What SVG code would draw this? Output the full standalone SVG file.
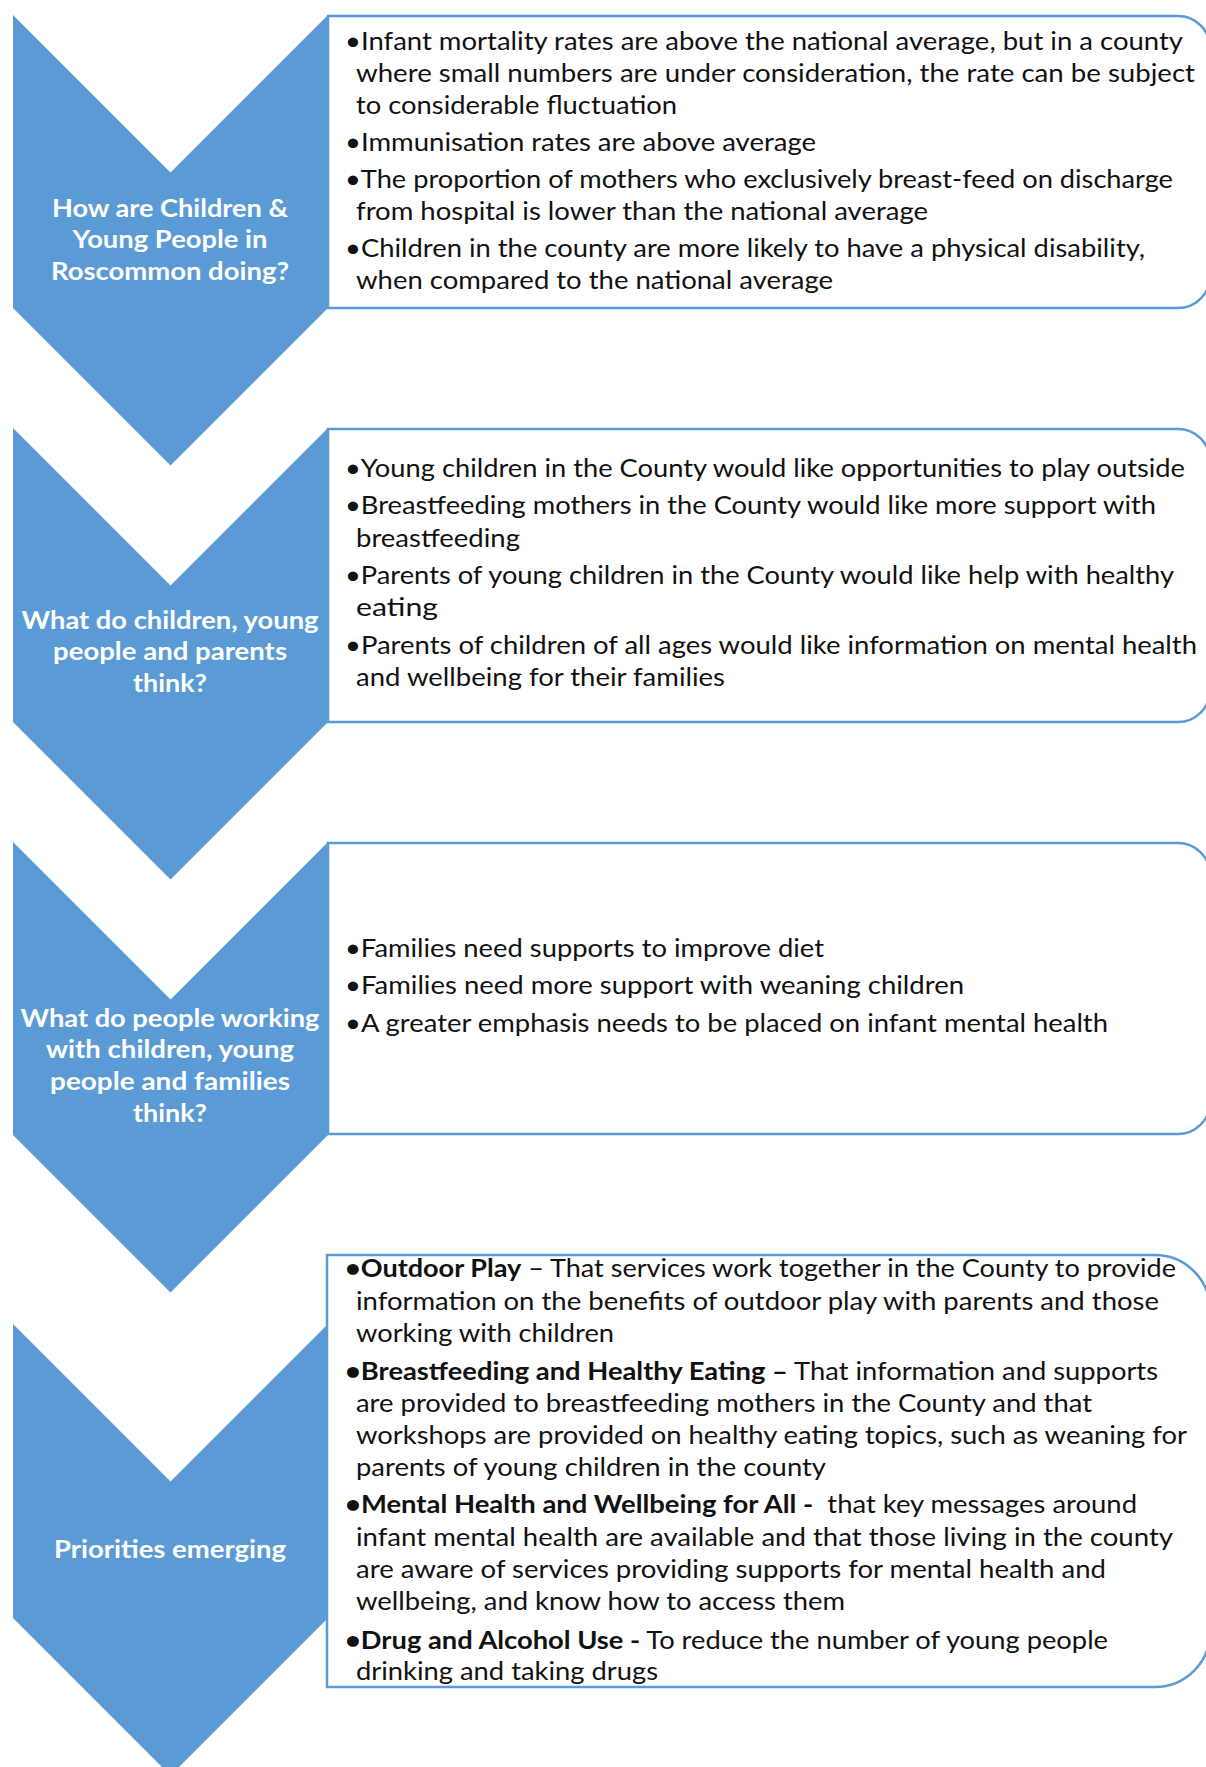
<svg xmlns="http://www.w3.org/2000/svg" width="1206" height="1767" viewBox="0 0 1206 1767">
  <style>
    .chev { fill: #5b9bd5; }
    .box { fill: #ffffff; stroke: #5b9bd5; stroke-width: 2.5; }
    .lbl { font-family: Lato, "Open Sans", "Liberation Sans", sans-serif; font-weight: bold; font-size: 25px; fill: #ffffff; text-anchor: middle; }
    .txt { font-family: Lato, "Open Sans", "Liberation Sans", sans-serif; font-size: 25px; fill: #111111; }
    .b { font-weight: bold; }
  </style>
  <rect width="1206" height="1767" fill="#ffffff"/>

  <g id="node-1">
    <polygon class="chev" points="13,15 170.5,172.5 328,15 328,308 170.5,465.5 13,308"/>
    <text class="lbl" x="170" y="217" textLength="236" lengthAdjust="spacingAndGlyphs">How are Children &amp;</text>
    <text class="lbl" x="170" y="248" textLength="195" lengthAdjust="spacingAndGlyphs">Young People in</text>
    <text class="lbl" x="170" y="280" textLength="238" lengthAdjust="spacingAndGlyphs">Roscommon doing?</text>
  </g>
  <g id="box-1">
    <path class="box" d="M328,16 H1178 A32,32 0 0 1 1210,48 V276 A32,32 0 0 1 1178,308 H328 Z"/>
    <text class="txt" x="345" y="50" textLength="838" lengthAdjust="spacingAndGlyphs">•Infant mortality rates are above the national average, but in a county</text>
    <text class="txt" x="356" y="82" textLength="839" lengthAdjust="spacingAndGlyphs">where small numbers are under consideration, the rate can be subject</text>
    <text class="txt" x="356" y="114" textLength="321" lengthAdjust="spacingAndGlyphs">to considerable fluctuation</text>
    <text class="txt" x="345" y="151" textLength="471" lengthAdjust="spacingAndGlyphs">•Immunisation rates are above average</text>
    <text class="txt" x="345" y="188" textLength="828" lengthAdjust="spacingAndGlyphs">•The proportion of mothers who exclusively breast-feed on discharge</text>
    <text class="txt" x="356" y="220" textLength="572" lengthAdjust="spacingAndGlyphs">from hospital is lower than the national average</text>
    <text class="txt" x="345" y="257" textLength="800" lengthAdjust="spacingAndGlyphs">•Children in the county are more likely to have a physical disability,</text>
    <text class="txt" x="356" y="289" textLength="477" lengthAdjust="spacingAndGlyphs">when compared to the national average</text>
  </g>

  <g id="node-2">
    <polygon class="chev" points="13,428 170.5,585.5 328,428 328,722 170.5,879.5 13,722"/>
    <text class="lbl" x="170" y="629" textLength="297" lengthAdjust="spacingAndGlyphs">What do children, young</text>
    <text class="lbl" x="170" y="660" textLength="234" lengthAdjust="spacingAndGlyphs">people and parents</text>
    <text class="lbl" x="170" y="692" textLength="74" lengthAdjust="spacingAndGlyphs">think?</text>
  </g>
  <g id="box-2">
    <path class="box" d="M328,429 H1178 A32,32 0 0 1 1210,461 V690 A32,32 0 0 1 1178,722 H328 Z"/>
    <text class="txt" x="345" y="477" textLength="840" lengthAdjust="spacingAndGlyphs">•Young children in the County would like opportunities to play outside</text>
    <text class="txt" x="345" y="514" textLength="811" lengthAdjust="spacingAndGlyphs">•Breastfeeding mothers in the County would like more support with</text>
    <text class="txt" x="356" y="547" textLength="164" lengthAdjust="spacingAndGlyphs">breastfeeding</text>
    <text class="txt" x="345" y="584" textLength="829" lengthAdjust="spacingAndGlyphs">•Parents of young children in the County would like help with healthy</text>
    <text class="txt" x="356" y="616" textLength="82" lengthAdjust="spacingAndGlyphs">eating</text>
    <text class="txt" x="345" y="654" textLength="852" lengthAdjust="spacingAndGlyphs">•Parents of children of all ages would like information on mental health</text>
    <text class="txt" x="356" y="686" textLength="369" lengthAdjust="spacingAndGlyphs">and wellbeing for their families</text>
  </g>

  <g id="node-3">
    <polygon class="chev" points="13,842 170.5,999.5 328,842 328,1135 170.5,1292.5 13,1135"/>
    <text class="lbl" x="170" y="1027" textLength="299" lengthAdjust="spacingAndGlyphs">What do people working</text>
    <text class="lbl" x="170" y="1058" textLength="248" lengthAdjust="spacingAndGlyphs">with children, young</text>
    <text class="lbl" x="170" y="1090" textLength="240" lengthAdjust="spacingAndGlyphs">people and families</text>
    <text class="lbl" x="170" y="1122" textLength="74" lengthAdjust="spacingAndGlyphs">think?</text>
  </g>
  <g id="box-3">
    <path class="box" d="M328,843 H1178 A32,32 0 0 1 1210,875 V1102 A32,32 0 0 1 1178,1134 H328 Z"/>
    <text class="txt" x="345" y="957" textLength="479" lengthAdjust="spacingAndGlyphs">•Families need supports to improve diet</text>
    <text class="txt" x="345" y="994" textLength="619" lengthAdjust="spacingAndGlyphs">•Families need more support with weaning children</text>
    <text class="txt" x="345" y="1032" textLength="763" lengthAdjust="spacingAndGlyphs">•A greater emphasis needs to be placed on infant mental health</text>
  </g>

  <g id="node-4">
    <polygon class="chev" points="13,1324 170.5,1481.5 328,1324 328,1618 170.5,1775.5 13,1618"/>
    <text class="lbl" x="170" y="1558" textLength="232" lengthAdjust="spacingAndGlyphs">Priorities emerging</text>
  </g>
  <g id="box-4">
    <path class="box" d="M327,1255 H1155 A55,55 0 0 1 1210,1310 V1632 A55,55 0 0 1 1155,1687 H327 Z"/>
    <text class="txt" x="345" y="1277" textLength="831" lengthAdjust="spacingAndGlyphs"><tspan class="b">•Outdoor Play</tspan> – That services work together in the County to provide</text>
    <text class="txt" x="356" y="1310" textLength="803" lengthAdjust="spacingAndGlyphs">information on the benefits of outdoor play with parents and those</text>
    <text class="txt" x="356" y="1342" textLength="258" lengthAdjust="spacingAndGlyphs">working with children</text>
    <text class="txt" x="345" y="1380" textLength="813" lengthAdjust="spacingAndGlyphs"><tspan class="b">•Breastfeeding and Healthy Eating –</tspan> That information and supports</text>
    <text class="txt" x="356" y="1412" textLength="736" lengthAdjust="spacingAndGlyphs">are provided to breastfeeding mothers in the County and that</text>
    <text class="txt" x="356" y="1444" textLength="831" lengthAdjust="spacingAndGlyphs">workshops are provided on healthy eating topics, such as weaning for</text>
    <text class="txt" x="356" y="1476" textLength="470" lengthAdjust="spacingAndGlyphs">parents of young children in the county</text>
    <text class="txt" x="345" y="1513" textLength="792" lengthAdjust="spacingAndGlyphs" xml:space="preserve"><tspan class="b">•Mental Health and Wellbeing for All -</tspan>  that key messages around</text>
    <text class="txt" x="356" y="1546" textLength="817" lengthAdjust="spacingAndGlyphs">infant mental health are available and that those living in the county</text>
    <text class="txt" x="356" y="1578" textLength="750" lengthAdjust="spacingAndGlyphs">are aware of services providing supports for mental health and</text>
    <text class="txt" x="356" y="1610" textLength="489" lengthAdjust="spacingAndGlyphs">wellbeing, and know how to access them</text>
    <text class="txt" x="345" y="1649" textLength="763" lengthAdjust="spacingAndGlyphs"><tspan class="b">•Drug and Alcohol Use -</tspan> To reduce the number of young people</text>
    <text class="txt" x="356" y="1680" textLength="302" lengthAdjust="spacingAndGlyphs">drinking and taking drugs</text>
  </g>
</svg>
